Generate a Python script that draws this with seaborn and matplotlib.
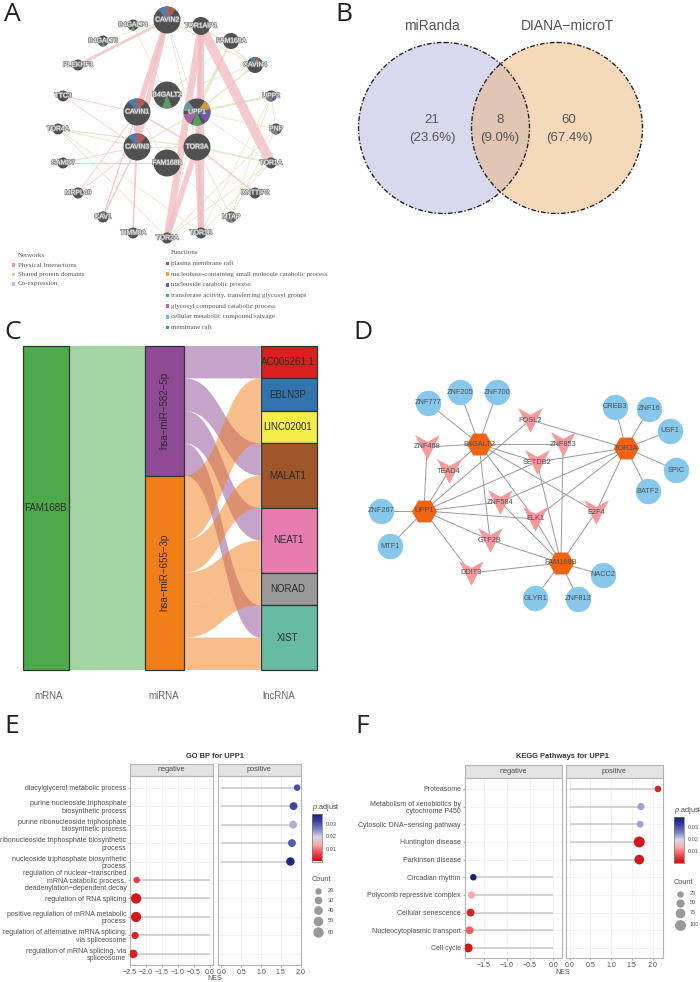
import numpy as np
import pandas as pd
import matplotlib.pyplot as plt
import matplotlib.patheffects as pe
from matplotlib.colors import LinearSegmentedColormap
from matplotlib.patches import Circle, Wedge, Rectangle, PathPatch
from matplotlib.path import Path
import seaborn as sns

W, H = 700, 982

# -------------------------------------
# DATA
# -------------------------------------
# Panel A - gene network
a_ring = ["CAVIN2", "TOR1AIP1", "FAM168A", "CAVIN4", "UPP2", "PNP", "TOR1A", "DNTTIP2", "MTAP", "TOR1B",
          "TOR2A", "TIMM8A", "CAV1", "MRPL49", "SAMD7", "TOR4A", "TTC3", "PLEKHF1", "B4GALT6", "B4GALT4"]
a_hubs = ["B4GALT2", "CAVIN1", "UPP1", "CAVIN3", "TOR3A", "FAM168B"]
a_physical = [("CAVIN2", "CAVIN1", 4), ("CAVIN2", "CAVIN3", 3.5), ("CAVIN2", "PLEKHF1", 2), ("CAVIN1", "CAVIN3", 4),
              ("TOR1AIP1", "TOR2A", 5), ("TOR1AIP1", "TOR1B", 4.5), ("TOR1AIP1", "TOR1A", 7), ("TOR1AIP1", "TOR3A", 3),
              ("TOR3A", "TOR1B", 4), ("TOR3A", "TOR2A", 4), ("CAVIN1", "TOR3A", 1.2), ("TOR3A", "DNTTIP2", 1.2),
              ("CAVIN1", "CAV1", 0.8), ("CAVIN3", "CAV1", 1.2), ("CAVIN1", "MRPL49", 0.7), ("TTC3", "CAVIN1", 0.7),
              ("TTC3", "CAVIN3", 0.6), ("SAMD7", "FAM168B", 0.7), ("SAMD7", "CAVIN3", 0.6), ("CAVIN3", "TIMM8A", 0.8),
              ("CAVIN1", "TIMM8A", 0.8), ("CAVIN3", "MRPL49", 0.6)]
a_shared = [("UPP1", "UPP2", 1.6), ("UPP1", "PNP", 0.7), ("UPP1", "CAVIN4", 1.2), ("UPP1", "FAM168A", 1.2),
            ("UPP1", "CAVIN3", 1), ("UPP1", "TOR2A", 0.6), ("TOR1A", "TOR3A", 1.2), ("TOR1A", "TOR2A", 0.7),
            ("TOR1A", "TOR1B", 0.7), ("TOR4A", "CAVIN3", 0.8), ("TOR4A", "TOR3A", 1), ("TOR4A", "TOR2A", 0.7),
            ("TOR4A", "TOR1B", 0.6), ("TOR3A", "MTAP", 0.7), ("UPP2", "MTAP", 0.7), ("PNP", "MTAP", 0.7),
            ("UPP2", "PNP", 0.6), ("B4GALT2", "CAVIN4", 0.7), ("B4GALT2", "FAM168A", 0.6), ("B4GALT4", "B4GALT2", 0.6),
            ("TOR1AIP1", "CAVIN4", 0.9), ("CAVIN2", "CAVIN4", 0.8), ("CAVIN2", "TOR3A", 0.6), ("FAM168A", "FAM168B", 0.9),
            ("TOR2A", "PNP", 0.7), ("TOR1B", "UPP2", 0.6), ("CAVIN2", "B4GALT6", 0.5), ("CAVIN3", "TOR3A", 0.8)]
a_coexp = [("CAVIN2", "UPP1", 0.5), ("CAVIN2", "CAV1", 0.5), ("TOR3A", "TOR1AIP1", 0.6), ("FAM168B", "CAVIN1", 0.5),
           ("FAM168B", "MTAP", 0.4), ("UPP1", "TOR1A", 0.5)]
a_network_names = ["Physical Interactions", "Shared protein domains", "Co-expression"]
a_function_names = ["plasma membrane raft", "nucleobase-containing small molecule catabolic process",
                    "nucleoside catabolic process", "transferase activity, transferring glycosyl groups",
                    "glycosyl compound catabolic process", "cellular metabolic compound salvage", "membrane raft"]
a_functions = {
    "CAVIN2": [0, 6], "CAVIN1": [0, 6], "CAVIN3": [0, 6], "CAVIN4": [0, 6], "CAV1": [0, 6],
    "B4GALT2": [3], "B4GALT4": [3], "B4GALT6": [3],
    "UPP1": [1, 2, 3, 4, 5], "UPP2": [2, 3, 4], "PNP": [2, 3, 4], "MTAP": [2, 3, 4],
}

# Panel B - venn counts
venn_names = ["miRanda", "DIANA\u2212microT"]
venn_counts = [21, 8, 60]
venn_shares = ["(23.6%)", "(9.0%)", "(67.4%)"]

# Panel C - alluvial
mrna_name = "FAM168B"
mirna_names = ["hsa\u2212miR\u2212582\u22125p", "hsa\u2212miR\u2212655\u22123p"]
lnc_names = ["AC005261.1", "EBLN3P", "LINC02001", "MALAT1", "NEAT1", "NORAD", "XIST"]
flow_sources = [0, 0, 0, 0, 1, 1, 1, 1, 1, 1]
flow_targets = ["AC005261.1", "MALAT1", "NEAT1", "XIST", "EBLN3P", "LINC02001", "MALAT1", "NEAT1", "NORAD", "XIST"]
level_names = ["mRNA", "miRNA", "lncRNA"]

# Panel D - regulatory network
d_genes = ["B4GALT2", "TOR3A", "UPP1", "FAM168B"]
d_tfs = ["FOSL2", "ZNF853", "ZNF468", "TEAD4", "SETDB2", "ZNF584", "ELK1", "E2F4", "GTF2B", "DDIT3"]
d_leaves = {"B4GALT2": ["ZNF777", "ZNF205", "ZNF700"],
            "TOR3A": ["CREB3", "ZNF16", "USF1", "SPIC", "BATF2"],
            "UPP1": ["ZNF267", "MTF1"],
            "FAM168B": ["GLYR1", "ZNF813", "NACC2"]}
d_links = {"B4GALT2": ["ZNF468", "ZNF853", "SETDB2", "E2F4", "ELK1", "GTF2B", "TEAD4"],
           "TOR3A": ["FOSL2", "SETDB2", "ZNF584", "ELK1", "E2F4"],
           "UPP1": ["ZNF468", "TEAD4", "FOSL2", "SETDB2", "ZNF584", "ELK1", "GTF2B", "DDIT3"],
           "FAM168B": ["ZNF853", "SETDB2", "ZNF584", "ELK1", "E2F4", "GTF2B", "DDIT3"]}

# Panel E
go_terms = ["diacylglycerol metabolic process",
            "purine nucleoside triphosphate\nbiosynthetic process",
            "purine ribonucleoside triphosphate\nbiosynthetic process",
            "ribonucleoside triphosphate biosynthetic\nprocess",
            "nucleoside triphosphate biosynthetic\nprocess",
            "regulation of nuclear\u2212transcribed\nmRNA catabolic process,\ndeadenylation\u2212dependent decay",
            "regulation of RNA splicing",
            "positive regulation of mRNA metabolic\nprocess",
            "regulation of alternative mRNA splicing,\nvia spliceosome",
            "regulation of mRNA splicing, via\nspliceosome"]
go_nes = [1.91, 1.82, 1.81, 1.78, 1.74, -2.29, -2.31, -2.31, -2.34, -2.40]
go_padj = [0.030, 0.031, 0.022, 0.029, 0.036, 0.005, 0.001, 0.001, 0.002, 0.002]
go_count = [5, 32, 32, 32, 38, 14, 62, 58, 25, 40]
go_legend = [20, 30, 40, 50, 60]

# Panel F
kegg_terms = ["Proteasome", "Metabolism of xenobiotics by\ncytochrome P450", "Cytosolic DNA\u2212sensing pathway",
              "Huntington disease", "Parkinson disease", "Circadian rhythm", "Polycomb repressive complex",
              "Cellular senescence", "Nucleocytoplasmic transport", "Cell cycle"]
kegg_nes = [2.13, 1.72, 1.70, 1.68, 1.68, -1.72, -1.76, -1.78, -1.80, -1.83]
kegg_padj = [0.002, 0.023, 0.023, 0.001, 0.001, 0.037, 0.013, 0.002, 0.008, 0.001]
kegg_count = [25, 35, 30, 100, 75, 5, 35, 45, 45, 60]
kegg_legend = [25, 50, 75, 100]

padj_ticks = [0.01, 0.02, 0.03]

# -------------------------------------
# LAYOUT (pixels of the page)
# -------------------------------------
a_pos = {"CAVIN2": (167, 20), "TOR1AIP1": (201, 26), "FAM168A": (231, 41), "CAVIN4": (255, 65), "UPP2": (271, 96),
         "PNP": (276, 129), "TOR1A": (271, 163), "DNTTIP2": (255, 193), "MTAP": (231, 217), "TOR1B": (201, 233),
         "TOR2A": (167, 238), "TIMM8A": (133, 233), "CAV1": (103, 217), "MRPL49": (78, 193), "SAMD7": (63, 163),
         "TOR4A": (58, 129), "TTC3": (63, 96), "PLEKHF1": (78, 65), "B4GALT6": (103, 41), "B4GALT4": (133, 25),
         "B4GALT2": (167, 95), "CAVIN1": (137, 112), "UPP1": (197, 112), "CAVIN3": (137, 147), "TOR3A": (197, 147),
         "FAM168B": (167, 163)}
a_radius = {"CAVIN2": 13.5, "TOR1AIP1": 9, "FAM168A": 8, "CAVIN4": 8, "B4GALT2": 13.5, "CAVIN1": 13.5, "UPP1": 13.5,
            "CAVIN3": 13.5, "TOR3A": 13.5, "FAM168B": 13.5}
# wedge span (degrees) of each function inside a node
a_spans = {0: (50, 90), 6: (90, 130), 1: (12, 55), 2: (-48, 10), 3: (-112, -68), 4: (-170, -118), 5: (130, 175)}
a_colors = ["#b05a5a", "#cf9e35", "#6f5bab", "#5a9b66", "#a8689f", "#669c9b", "#4d7ea8"]

d_pos = {"ZNF777": (428, 403), "ZNF205": (460, 392), "ZNF700": (497, 392), "CREB3": (615, 407), "ZNF16": (649, 409),
         "USF1": (670, 431), "SPIC": (676, 470), "BATF2": (648, 491), "ZNF267": (381, 511), "MTF1": (390, 546),
         "GLYR1": (535, 598), "ZNF813": (578, 599), "NACC2": (603, 575),
         "B4GALT2": (479, 444), "TOR3A": (626, 448), "UPP1": (424, 511), "FAM168B": (561, 563),
         "FOSL2": (530, 420), "ZNF853": (563, 444), "ZNF468": (427, 447), "TEAD4": (449, 471), "SETDB2": (537, 462),
         "ZNF584": (500, 502), "ELK1": (535, 519), "E2F4": (596, 512), "GTF2B": (490, 540), "DDIT3": (471, 573)}
vee = Path([(-1, 1), (0, 0.45), (1, 1), (0, -1), (-1, 1)], closed=True)


def px_rect(x0, y0, x1, y1):
    return [x0 / W, 1 - y1 / H, (x1 - x0) / W, (y1 - y0) / H]


sns.set_theme(style="white")
plt.rcParams["font.family"] = ["Liberation Sans", "DejaVu Sans"]
plt.rcParams["mathtext.fontset"] = "custom"
plt.rcParams["mathtext.it"] = "Liberation Sans:italic"
plt.rcParams["mathtext.rm"] = "Liberation Sans"
fig = plt.figure(figsize=(W / 100, H / 100), dpi=100)

page = fig.add_axes([0, 0, 1, 1])
page.set_xlim(0, W)
page.set_ylim(H, 0)
page.axis("off")

for letter, lx, ly in [("A", 4, 21), ("B", 335, 21), ("C", 4, 339), ("D", 353, 339), ("E", 4, 733), ("F", 355, 733)]:
    page.text(lx, ly, letter, fontsize=19, family="Open Sans", color="#222222", va="baseline", ha="left")


# -------------------------------------
# PANEL A
# -------------------------------------
def draw_edges(edges, color, alpha):
    for n1, n2, lw in edges:
        xs, ys = zip(a_pos[n1], a_pos[n2])
        page.plot(xs, ys, color=color, lw=lw, alpha=alpha, solid_capstyle="butt", zorder=1)


draw_edges(a_coexp, "#e2d4ec", 0.9)
draw_edges(a_shared, "#e8e5c4", 0.9)
draw_edges(a_physical, "#f1bcc0", 0.75)

for name in a_ring + a_hubs:
    cx, cy = a_pos[name]
    r = a_radius.get(name, 5.5)
    page.add_patch(Circle((cx, cy), r, fc="#505050", ec="none", zorder=2))
    for f in a_functions.get(name, []):
        start, end = a_spans[f]
        # y axis of the page is flipped, so the angles are mirrored
        page.add_patch(Wedge((cx, cy), r, -end, -start, fc=a_colors[f], ec="none", zorder=3))
    page.text(cx, cy, name, color="white", fontsize=4.9, ha="center", va="center", zorder=4,
              path_effects=[pe.withStroke(linewidth=1.1, foreground="#8a8a8a")])

page.text(17.5, 255, "Networks", family="Liberation Serif", fontsize=5, color="#555555", va="center")
for i, (label, col) in enumerate(zip(a_network_names, ["#e89a9a", "#d8d496", "#cdb4dc"])):
    y = 265 + 9.5 * i
    page.add_patch(Rectangle((11.5, y - 1.8), 3.5, 3.5, fc=col, ec="none"))
    page.text(17.5, y, label, family="Liberation Serif", fontsize=5, color="#555555", va="center")
page.text(171, 252.5, "Functions", family="Liberation Serif", fontsize=5, color="#555555", va="center")
for i, (label, col) in enumerate(zip(a_function_names, ["#c0504d", "#e8a33d", "#6a5acd", "#4caf5f", "#c060b8", "#72c4ba", "#4a8cc2"])):
    y = 263.5 + 10.67 * i
    page.add_patch(Rectangle((165.5, y - 1.8), 3.5, 3.5, fc=col, ec="none"))
    page.text(171, y, label, family="Liberation Serif", fontsize=5, color="#555555", va="center")

# -------------------------------------
# PANEL B
# -------------------------------------
venn_r = 85.5
venn_dash = (0, (3.4, 1.4, 1, 1.4))
left = Circle((444, 128), venn_r, fc="#d8d9ee", ec="none", zorder=1)
right = Circle((557, 128), venn_r, fc="#f5d9bb", ec="none", zorder=1.1)
page.add_patch(left)
page.add_patch(right)
overlap = Circle((444, 128), venn_r, fc="#e2c6b4", ec="none", zorder=1.2)
page.add_patch(overlap)
overlap.set_clip_path(right)
for cx in (444, 557):
    page.add_patch(Circle((cx, 128), venn_r, fc="none", ec="#222222", lw=1, ls=venn_dash, zorder=2))
for name, nx in zip(venn_names, [432, 568]):
    page.text(nx, 25.5, name, fontsize=10, color="#555555", ha="center", va="center")
for count, share, tx in zip(venn_counts, venn_shares, [432, 500, 569]):
    page.text(tx, 120, str(count), fontsize=9.5, color="#555555", ha="center", va="center", zorder=3)
    page.text(tx, 137.5, share, fontsize=9.5, color="#555555", ha="center", va="center", zorder=3)

# -------------------------------------
# PANEL C
# -------------------------------------
mirna_colors = ["#8e4a95", "#f07f1a"]
lnc_colors = ["#d9201f", "#3275ae", "#f4ee4a", "#a0562a", "#e77cb0", "#999999", "#66bba0"]
col_edges = [(23, 68.5), (145, 184), (260.5, 317)]

ax_c = fig.add_axes(px_rect(23, 346, 317, 670))
ax_c.set_xlim(23, 317)
ax_c.set_ylim(len(flow_sources), 0)
ax_c.axis("off")

flows = pd.DataFrame({"source": flow_sources, "target": flow_targets})
mirna_counts = flows.groupby("source").size().tolist()
lnc_counts = flows.groupby("target").size().reindex(lnc_names).tolist()
total = len(flows)


def stratum(x0, x1, y0, height, color, label, rotation=0, text_x=None):
    ax_c.add_patch(Rectangle((x0, y0), x1 - x0, height, fc=color, ec="#333333", lw=0.9, zorder=3, clip_on=False))
    ax_c.text((x0 + x1) / 2 if text_x is None else text_x, y0 + height / 2, label, fontsize=7, color="#2a2a2a",
              ha="center", va="center", rotation=rotation, zorder=4)


def ribbon(x0, x1, y0, y1, height, color):
    xm = (x0 + x1) / 2
    verts = [(x0, y0), (xm, y0), (xm, y1), (x1, y1), (x1, y1 + height), (xm, y1 + height), (xm, y0 + height),
             (x0, y0 + height), (x0, y0)]
    codes = [Path.MOVETO, Path.CURVE4, Path.CURVE4, Path.CURVE4, Path.LINETO, Path.CURVE4, Path.CURVE4, Path.CURVE4,
             Path.CLOSEPOLY]
    ax_c.add_patch(PathPatch(Path(verts, codes), fc=color, ec="none", alpha=0.5, zorder=2))


# mRNA to miRNA, a single block
ribbon(col_edges[0][1], col_edges[1][0], 0, 0, total, "#4daa4a")
stratum(*col_edges[0], 0, total, "#4daa4a", mrna_name)

y = 0
source_tops = {}
for k, (name, n, col) in enumerate(zip(mirna_names, mirna_counts, mirna_colors)):
    stratum(*col_edges[1], y, n, col, name, rotation=90)
    source_tops[k] = y
    y += n
y = 0
target_tops = {}
for name, n, col in zip(lnc_names, lnc_counts, lnc_colors):
    stratum(*col_edges[2], y, n, col, name, text_x=288)
    target_tops[name] = y
    y += n
for src, tgt in zip(flows["source"], flows["target"]):
    ribbon(col_edges[1][1], col_edges[2][0], source_tops[src], target_tops[tgt], 1, mirna_colors[src])
    source_tops[src] += 1
    target_tops[tgt] += 1
for name, lx in zip(level_names, [49, 164, 279]):
    page.text(lx, 696, name, fontsize=7, color="#666666", ha="center", va="center")

# -------------------------------------
# PANEL D
# -------------------------------------
for gene in d_genes:
    for other in d_leaves[gene] + d_links[gene]:
        xs, ys = zip(d_pos[gene], d_pos[other])
        page.plot(xs, ys, color="#9a9a9a", lw=0.7, zorder=1)

d_nodes = pd.DataFrame({"name": d_genes + d_tfs + sum(d_leaves.values(), [])})
d_nodes["kind"] = ["gene"] * len(d_genes) + ["tf"] * len(d_tfs) + ["leaf"] * (len(d_nodes) - len(d_genes) - len(d_tfs))
d_nodes["x"] = [d_pos[n][0] for n in d_nodes["name"]]
d_nodes["y"] = [d_pos[n][1] for n in d_nodes["name"]]
for kind, marker, color, size in [("leaf", "o", "#87c7ea", 335), ("gene", "H", "#ee6314", 330), ("tf", vee, "#f59a9b", 320)]:
    part = d_nodes[d_nodes["kind"] == kind]
    sns.scatterplot(data=part, x="x", y="y", marker=marker, color=color, s=size, linewidth=0, ax=page, zorder=2, legend=False)
for _, row in d_nodes.iterrows():
    page.text(row["x"], row["y"], row["name"], fontsize=5.3, color="#46525c", ha="center", va="center", zorder=3)
page.set_xlim(0, W)
page.set_ylim(H, 0)
page.set_xlabel("")
page.set_ylabel("")

# -------------------------------------
# PANELS E, F
# -------------------------------------
padj_cmap = LinearSegmentedColormap.from_list("padj", ["#cc1013", "#ec4a50", "#f7a9ab", "#dcd8ec", "#7f80c4", "#3a3f9e", "#12206f"])
grey_text = "#4d4d4d"
panel_edge = "#b3b3b3"


def gsea_panel(title, title_x, terms, nes, padj, count, legend_counts, neg_box, pos_box, top, strip_bottom, bottom,
               neg_lim, pos_lim, neg_ticks, pos_ticks, ylim, size_norm, sizes, xlabel_xy, bar, legend_x, legend_ys):
    df = pd.DataFrame({"term": terms, "NES": nes, "padj": padj, "Count": count, "pos": np.arange(len(terms))})
    page.text(title_x, 756, title, fontsize=5.4, fontweight="bold", color="#333333", ha="center", va="center")
    for box, lim, ticks, part, name in [(neg_box, neg_lim, neg_ticks, df[df["NES"] < 0], "negative"),
                                        (pos_box, pos_lim, pos_ticks, df[df["NES"] > 0], "positive")]:
        ax = fig.add_axes(px_rect(box[0], strip_bottom, box[1], bottom))
        ax.set_facecolor("white")
        ax.grid(True, color="#ededed", lw=0.5)
        ax.set_axisbelow(True)
        ax.hlines(part["pos"], 0, part["NES"], color="#c9c9c9", lw=1.1, zorder=2)
        sns.scatterplot(data=part, x="NES", y="pos", size="Count", sizes=sizes, size_norm=size_norm, hue="padj",
                        hue_norm=(0, 0.038), palette=padj_cmap, linewidth=0, ax=ax, legend=False, zorder=3)
        ax.set_xlim(*lim)
        ax.set_ylim(*ylim)
        ax.set_xticks(ticks)
        ax.set_yticks(df["pos"])
        ax.set_xlabel("")
        ax.set_ylabel("")
        ax.set_xticklabels([f"{t:.1f}".replace("-", "\u2212") for t in ticks], fontsize=5, color=grey_text)
        if name == "negative":
            ax.set_yticklabels(df["term"], fontsize=5, color=grey_text, linespacing=1.1, ha="right")
        else:
            ax.set_yticklabels([])
        ax.tick_params(axis="both", length=1.6, width=0.4, color="#666666", pad=1, left=name == "negative", bottom=True)
        for s in ax.spines.values():
            s.set_color(panel_edge)
            s.set_linewidth(0.8)
        page.add_patch(Rectangle((box[0], top), box[1] - box[0], strip_bottom - top, fc="#e3e3e3", ec=panel_edge, lw=0.8))
        page.text(sum(box) / 2, (top + strip_bottom) / 2, name, fontsize=5.3, color=grey_text, ha="center", va="center")
    page.text(xlabel_xy[0], xlabel_xy[1], "NES", fontsize=5, color=grey_text, ha="center", va="center")

    # p.adjust colour bar
    bx0, bx1, by0, by1, v_top = bar
    page.text(bx0, by0 - 6, r"$\mathit{p}$.adjust", fontsize=5.3, color=grey_text, ha="left", va="center")
    cax = fig.add_axes(px_rect(bx0, by0, bx1, by1))
    grad = np.linspace(0, 0.038, 128)[:, None]
    cax.imshow(grad, aspect="auto", cmap=padj_cmap, origin="lower", extent=[0, 1, 0, v_top], vmin=0, vmax=0.038)
    cax.set_xticks([])
    cax.yaxis.tick_right()
    cax.set_yticks(padj_ticks)
    cax.set_yticklabels([f"{t:.2f}" for t in padj_ticks], fontsize=4.1, color=grey_text)
    cax.tick_params(axis="y", length=0, pad=3)
    for s in cax.spines.values():
        s.set_color("#777777")
        s.set_linewidth(0.5)

    # Count legend
    page.text(bx0, legend_ys[0] - 11, "Count", fontsize=5.3, color=grey_text, ha="left", va="center")
    lo, hi = size_norm
    for c, ly in zip(legend_counts, legend_ys):
        s = sizes[0] + (sizes[1] - sizes[0]) * (c - lo) / (hi - lo)
        page.scatter(legend_x, ly, s=s, color="#999999", linewidth=0)
        page.text(legend_x + 10, ly, str(c), fontsize=4.1, color=grey_text, ha="left", va="center")


gsea_panel("GO BP for UPP1", 215, go_terms, go_nes, go_padj, go_count, go_legend,
           (130, 213.3), (217.7, 300.7), 763.5, 776, 965,
           (-2.5, 0.105), (-0.09, 2.0), [-2.5, -2.0, -1.5, -1.0, -0.5, 0.0], [0.0, 0.5, 1.0, 1.5, 2.0],
           (9.6, -0.63), (20, 60), (22, 56), (215, 978), (311.5, 321.5, 813.5, 861.5, 0.0379),
           317.5, [890.5, 900, 910, 920.5, 932])

gsea_panel("KEGG Pathways for UPP1", 563, kegg_terms, kegg_nes, kegg_padj, kegg_count, kegg_legend,
           (464.5, 561.5), (565.5, 662.5), 765, 778, 958,
           (-1.91, 0.18), (-0.097, 2.24), [-1.5, -1.0, -0.5, 0.0], [0.0, 0.5, 1.0, 1.5, 2.0],
           (9.57, -0.62), (25, 100), (22, 62), (563, 973), (673.5, 683.5, 816.5, 862.5, 0.0385),
           680, [893.5, 903, 913, 925])

fig.savefig("out.png", dpi=100)
